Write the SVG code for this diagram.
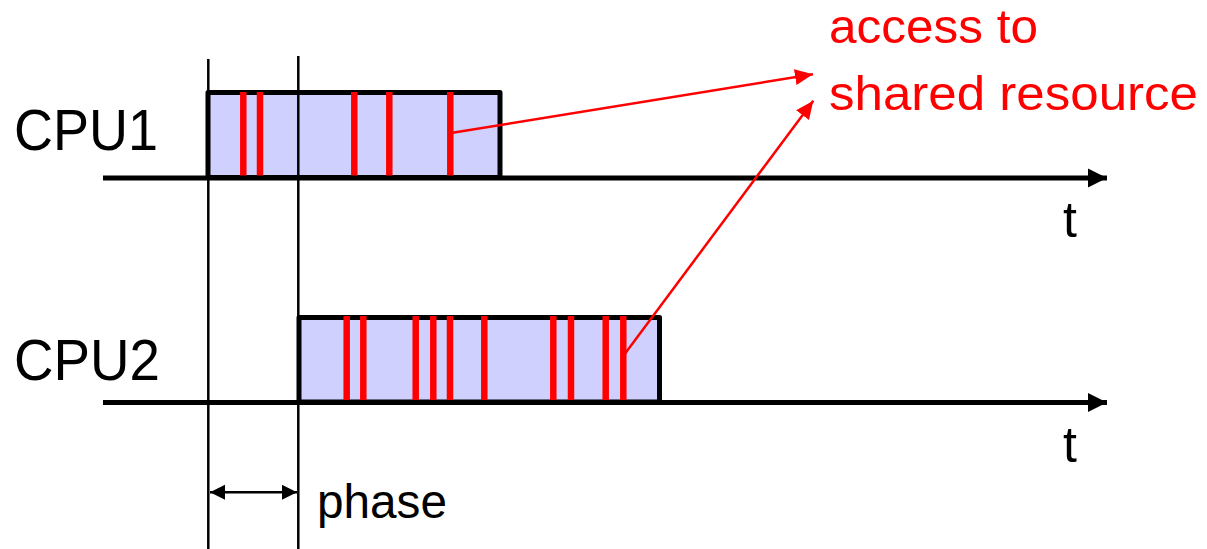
<svg xmlns="http://www.w3.org/2000/svg" width="1207" height="549" viewBox="0 0 1207 549">
<style>
.lbl{font-family:"Liberation Sans",Arial,sans-serif;fill:#000}
.red{font-family:"Liberation Sans",Arial,sans-serif;fill:#ff0000}
.box{fill:#d0d0ff;stroke:#000;stroke-width:5;stroke-linejoin:round}
.bar{stroke:#ff0000;stroke-width:6.5}
.axis{stroke:#000;stroke-width:5;fill:none}
.guide{stroke:#000;stroke-width:2.5}
.conn{stroke:#ff0000;stroke-width:2.5;fill:none}
</style>
<defs>
<marker id="axhead" markerUnits="userSpaceOnUse" markerWidth="20" markerHeight="20" refX="19" refY="10" orient="auto">
<path d="M0,0.5 L19,10 L0,19.5 Z" fill="#000"/>
</marker>
<marker id="redhead" markerUnits="userSpaceOnUse" markerWidth="20" markerHeight="18" refX="18" refY="8" orient="auto">
<path d="M0,0 L18,8 L0,16 Z" fill="#ff0000"/>
</marker>
<marker id="ph" markerUnits="userSpaceOnUse" markerWidth="16" markerHeight="16" refX="15" refY="7.5" orient="auto-start-reverse">
<path d="M0,0 L15,7.5 L0,15 Z" fill="#000"/>
</marker>
</defs>
<g id="cpu1">
<rect class="box" x="208" y="92.5" width="292" height="85"/>
<g class="bar">
<line x1="243.3" y1="92" x2="243.3" y2="179"/>
<line x1="260" y1="92" x2="260" y2="179"/>
<line x1="354.3" y1="92" x2="354.3" y2="179"/>
<line x1="389.3" y1="92" x2="389.3" y2="179"/>
<line x1="450.3" y1="92" x2="450.3" y2="179"/>
</g>
<text class="lbl" x="14" y="150" font-size="57" textLength="144" lengthAdjust="spacingAndGlyphs">CPU1</text>
</g>
<g id="cpu2">
<rect class="box" x="299" y="317.5" width="360.5" height="84.5"/>
<g class="bar">
<line x1="346.7" y1="316" x2="346.7" y2="403"/>
<line x1="363.3" y1="316" x2="363.3" y2="403"/>
<line x1="415.7" y1="316" x2="415.7" y2="403"/>
<line x1="433.3" y1="316" x2="433.3" y2="403"/>
<line x1="450" y1="316" x2="450" y2="403"/>
<line x1="484.3" y1="316" x2="484.3" y2="403"/>
<line x1="553.3" y1="316" x2="553.3" y2="403"/>
<line x1="571" y1="316" x2="571" y2="403"/>
<line x1="605.7" y1="316" x2="605.7" y2="403"/>
<line x1="623.3" y1="316" x2="623.3" y2="403"/>
</g>
<text class="lbl" x="14" y="380" font-size="57" textLength="146" lengthAdjust="spacingAndGlyphs">CPU2</text>
</g>
<g id="axes">
<line class="axis" x1="103" y1="178" x2="1107" y2="178" marker-end="url(#axhead)"/>
<line class="axis" x1="103" y1="402.5" x2="1107" y2="402.5" marker-end="url(#axhead)"/>
<text class="lbl" x="1063" y="237" font-size="50">t</text>
<text class="lbl" x="1063" y="461.5" font-size="50">t</text>
</g>
<g id="phase">
<line class="guide" x1="208.3" y1="59" x2="208.3" y2="549"/>
<line class="guide" x1="298.3" y1="56" x2="298.3" y2="549"/>
<line x1="210" y1="492.3" x2="297" y2="492.3" stroke="#000" stroke-width="2.5" marker-start="url(#ph)" marker-end="url(#ph)"/>
<text class="lbl" x="317" y="518" font-size="48" textLength="130" lengthAdjust="spacingAndGlyphs">phase</text>
</g>
<g id="label">
<text class="red" x="829" y="43" font-size="48" textLength="209" lengthAdjust="spacingAndGlyphs">access to</text>
<text class="red" x="829" y="110" font-size="48" textLength="369" lengthAdjust="spacingAndGlyphs">shared resource</text>
</g>
<g id="connectors">
<line class="conn" x1="451" y1="133" x2="813" y2="74.3" marker-end="url(#redhead)"/>
<line class="conn" x1="624" y1="355" x2="813.3" y2="100.7" marker-end="url(#redhead)"/>
</g>
</svg>
